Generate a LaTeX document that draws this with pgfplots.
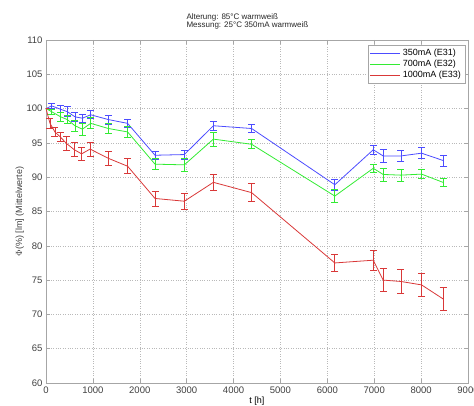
\documentclass[border=0pt]{standalone}
\usepackage{pgfplots}
\pgfplotsset{compat=1.18}
\usepackage{pgfplotstable}
\usepackage{fontspec}
\setmainfont{Liberation Sans}
\definecolor{cblue}{rgb}{0.3,0.3,1}
\definecolor{cgreen}{rgb}{0.2,0.92,0.2}
\definecolor{cred}{rgb}{0.85,0.22,0.22}

\pgfplotstableread{
t v e
0 100 0
120 100.4 0.35
313 99.9 0.5
455 99.55 0.7
618 98.8 0.65
775 98.6 0.6
953 99.1 0.6
1330 98.4 0.65
1740 97.85 0.6
2325 93.2 0.6
2950 93.3 0.65
3570 97.5 0.65
4385 97.1 0.6
6160 88.9 0.8
6980 94.0 0.7
7190 93.1 1.0
7570 93.1 0.8
8010 93.5 0.8
8485 92.4 0.8
}\tabA

\pgfplotstableread{
t v e
0 100 0
120 99.55 0.4
313 98.8 0.6
455 98.4 0.6
618 97.5 0.8
775 97.0 0.9
953 97.85 0.8
1330 97.1 0.75
1740 96.6 0.85
2325 91.9 0.8
2950 91.8 0.9
3570 95.55 1.0
4385 94.8 0.65
6160 87.25 0.9
6980 91.3 0.55
7190 90.4 0.95
7570 90.3 0.9
8010 90.45 0.65
8485 89.2 0.6
}\tabB

\pgfplotstableread{
t v e
0 100 0
85 97.85 0.7
190 96.6 0.7
300 95.9 0.7
440 94.9 1.0
605 94.0 1.0
760 93.4 0.9
940 94.1 1.0
1330 92.75 1.0
1740 91.6 1.1
2325 86.9 1.1
2950 86.5 1.15
3570 89.25 1.15
4385 87.75 1.3
6160 77.5 1.2
6980 77.9 1.5
7190 75.0 1.7
7570 74.8 1.75
8010 74.3 1.7
8470 72.25 1.7
}\tabC

\begin{document}
\begin{tikzpicture}[x=1pt,y=1pt]
\useasboundingbox (0,0) rectangle (474,406);
\begin{axis}[
  at={(46pt,23pt)}, anchor=south west,
  scale only axis, width=422pt, height=343pt,
  xmin=0, xmax=9000, ymin=60, ymax=110,
  xtick={0,1000,...,9000}, ytick={60,65,...,110},
  scaled x ticks=false,
  /pgf/number format/assume math mode=true,
  /pgf/number format/1000 sep={},
  grid=major, grid style={dotted, gray!55, line width=0.5pt},
  axis line style={gray!70, line width=0.6pt},
  tick style={gray!70, line width=0.5pt},
  tick align=inside, major tick length=4pt,
  ticklabel style={font=\fontsize{9.5}{10}\selectfont, text=black!75},
  xlabel={t [h]}, xlabel style={font=\fontsize{9}{10}\selectfont, yshift=3pt},
  ylabel={$\Phi$(\%) [lm] (Mittelwerte)},
  ylabel style={font=\fontsize{9}{10}\selectfont, at={(axis description cs:-0.062,0.5)}, anchor=center, text=black!75},
  legend style={at={(1,1)}, xshift=-3pt, yshift=-5pt, anchor=north east,
    draw=gray!70, font=\fontsize{9}{10}\selectfont, inner sep=2pt,
    row sep=-1pt},
  legend cell align=left,
  legend image code/.code={\draw[#1] (0pt,0pt) -- (30pt,0pt);},
]
\addplot[draw=cblue, line width=0.8pt, mark=none,
  error bars/.cd, y dir=both, y explicit,
  error bar style={draw=cblue, line width=0.8pt},
  error mark options={draw=cblue, rotate=90, mark size=3.5pt, line width=0.8pt}]
  table[x=t, y=v, y error=e]{\tabA};
\addlegendentry{350mA (E31)}
\addplot[draw=cgreen, line width=0.8pt, mark=none,
  error bars/.cd, y dir=both, y explicit,
  error bar style={draw=cgreen, line width=0.8pt},
  error mark options={draw=cgreen, rotate=90, mark size=3.5pt, line width=0.8pt}]
  table[x=t, y=v, y error=e]{\tabB};
\addlegendentry{700mA (E32)}
\addplot[draw=cred, line width=0.8pt, mark=none,
  error bars/.cd, y dir=both, y explicit,
  error bar style={draw=cred, line width=0.8pt},
  error mark options={draw=cred, rotate=90, mark size=3.5pt, line width=0.8pt}]
  table[x=t, y=v, y error=e]{\tabC};
\addlegendentry{1000mA (E33)}
\end{axis}
\node[anchor=west, align=left, font=\fontsize{8}{8}\selectfont, text=black!85] at (183,385)
  {Alterung: 85°C warmweiß\\Messung: 25°C 350mA warmweiß};
\end{tikzpicture}
\end{document}
